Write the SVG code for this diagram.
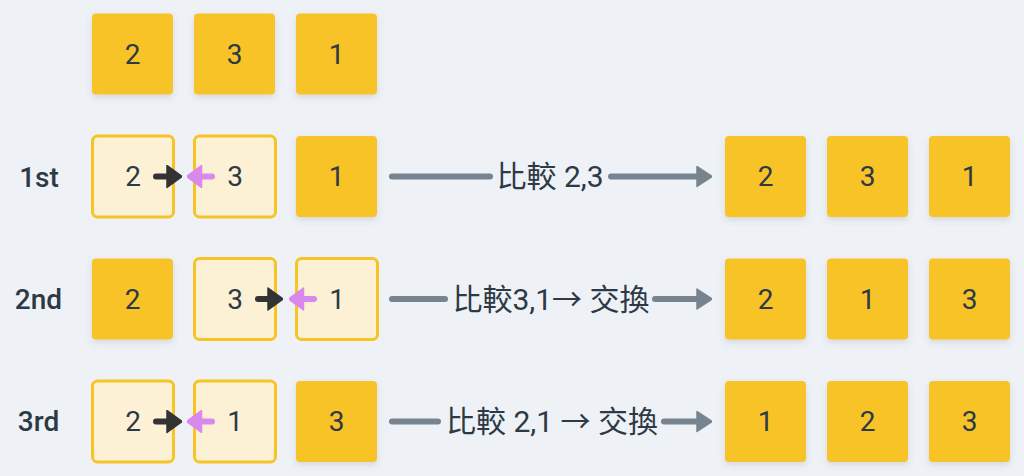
<svg xmlns="http://www.w3.org/2000/svg" width="1024" height="476" viewBox="0 0 1024 476">
<defs>
<filter id="sh" x="-20%" y="-20%" width="140%" height="150%">
<feDropShadow dx="0" dy="3" stdDeviation="3" flood-color="#5a6470" flood-opacity="0.18"/>
</filter>
<marker id="ah" viewBox="0 0 16 22" refX="1" refY="11" markerWidth="16" markerHeight="22" markerUnits="userSpaceOnUse" orient="auto">
<path d="M1,1 L16,11 L1,21 Z" fill="#778490" stroke="#778490" stroke-width="1.5" stroke-linejoin="round"/>
</marker>
<marker id="ahb" viewBox="0 0 16 24" refX="1" refY="12" markerWidth="16" markerHeight="24" markerUnits="userSpaceOnUse" orient="auto">
<path d="M1,1 L16,12 L1,23 Z" fill="#333333" stroke="#333333" stroke-width="1.5" stroke-linejoin="round"/>
</marker>
<marker id="ahp" viewBox="0 0 16 24" refX="1" refY="12" markerWidth="16" markerHeight="24" markerUnits="userSpaceOnUse" orient="auto">
<path d="M1,1 L16,12 L1,23 Z" fill="#d988ee" stroke="#d988ee" stroke-width="1.5" stroke-linejoin="round"/>
</marker>
</defs>
<style>
.bg{fill:#eef2f6}
.s{fill:#f7c325;filter:url(#sh)}
.h{fill:#fdf1d5;stroke:#f7c325;stroke-width:3}
.t{font-family:Roboto,"Noto Sans CJK TC",sans-serif;font-size:28px;fill:#2d3945;text-anchor:middle;dominant-baseline:central}
.l{font-family:Roboto,"Noto Sans CJK TC",sans-serif;font-size:30px;fill:#2d3945;text-anchor:middle;dominant-baseline:central}
.r{font-family:Roboto,sans-serif;font-size:28px;font-weight:500;fill:#2d3945;text-anchor:middle;dominant-baseline:central}
.c{stroke:#778490;stroke-width:6;stroke-linecap:round;fill:none}
.ab{stroke:#333333;stroke-width:6;stroke-linecap:round;fill:none}
.ap{stroke:#d988ee;stroke-width:6;stroke-linecap:round;fill:none}
</style>
<rect class="bg" x="0" y="0" width="1024" height="476"/>

<g id="row-labels">
<text class="r" x="39" y="177">1st</text>
<text class="r" x="38.5" y="299">2nd</text>
<text class="r" x="38.5" y="421.5">3rd</text>
</g>

<g id="row0">
<g id="r0b1"><rect class="s" x="92" y="13.5" width="81" height="81" rx="4"/><text class="t" x="132.5" y="54">2</text></g>
<g id="r0b2"><rect class="s" x="194" y="13.5" width="81" height="81" rx="4"/><text class="t" x="234.5" y="54">3</text></g>
<g id="r0b3"><rect class="s" x="296" y="13.5" width="81" height="81" rx="4"/><text class="t" x="336.5" y="54">1</text></g>
</g>

<g id="row1">
<g id="r1b1"><rect class="h" x="92.5" y="136" width="81" height="81" rx="5"/><text class="t" x="133" y="176.5">2</text></g>
<g id="r1b2"><rect class="h" x="194.5" y="136" width="81" height="81" rx="5"/><text class="t" x="235" y="176.5">3</text></g>
<g id="r1b3"><rect class="s" x="296" y="136" width="81" height="81" rx="4"/><text class="t" x="336.5" y="176.5">1</text></g>
<g id="r1o1"><rect class="s" x="725" y="136" width="81" height="81" rx="4"/><text class="t" x="765.5" y="176.5">2</text></g>
<g id="r1o2"><rect class="s" x="827" y="136" width="81" height="81" rx="4"/><text class="t" x="867.5" y="176.5">3</text></g>
<g id="r1o3"><rect class="s" x="929" y="136" width="81" height="81" rx="4"/><text class="t" x="969.5" y="176.5">1</text></g>
</g>

<g id="row2">
<g id="r2b1"><rect class="s" x="92" y="258.5" width="81" height="81" rx="4"/><text class="t" x="132.5" y="299">2</text></g>
<g id="r2b2"><rect class="h" x="194.5" y="258.5" width="81" height="81" rx="5"/><text class="t" x="235" y="299">3</text></g>
<g id="r2b3"><rect class="h" x="296.5" y="258.5" width="81" height="81" rx="5"/><text class="t" x="337" y="299">1</text></g>
<g id="r2o1"><rect class="s" x="725" y="258.5" width="81" height="81" rx="4"/><text class="t" x="765.5" y="299">2</text></g>
<g id="r2o2"><rect class="s" x="827" y="258.5" width="81" height="81" rx="4"/><text class="t" x="867.5" y="299">1</text></g>
<g id="r2o3"><rect class="s" x="929" y="258.5" width="81" height="81" rx="4"/><text class="t" x="969.5" y="299">3</text></g>
</g>

<g id="row3">
<g id="r3b1"><rect class="h" x="92.5" y="381" width="81" height="81" rx="5"/><text class="t" x="133" y="421.5">2</text></g>
<g id="r3b2"><rect class="h" x="194.5" y="381" width="81" height="81" rx="5"/><text class="t" x="235" y="421.5">1</text></g>
<g id="r3b3"><rect class="s" x="296" y="381" width="81" height="81" rx="4"/><text class="t" x="336.5" y="421.5">3</text></g>
<g id="r3o1"><rect class="s" x="725" y="381" width="81" height="81" rx="4"/><text class="t" x="765.5" y="421.5">1</text></g>
<g id="r3o2"><rect class="s" x="827" y="381" width="81" height="81" rx="4"/><text class="t" x="867.5" y="421.5">2</text></g>
<g id="r3o3"><rect class="s" x="929" y="381" width="81" height="81" rx="4"/><text class="t" x="969.5" y="421.5">3</text></g>
</g>

<g id="connectors">
<line class="ab" x1="156" y1="176.5" x2="167" y2="176.5" marker-end="url(#ahb)"/>
<line class="ap" x1="212" y1="176.5" x2="201.5" y2="176.5" marker-end="url(#ahp)"/>
<line class="ab" x1="258" y1="299" x2="268" y2="299" marker-end="url(#ahb)"/>
<line class="ap" x1="314" y1="299" x2="303.5" y2="299" marker-end="url(#ahp)"/>
<line class="ab" x1="156" y1="421.5" x2="167" y2="421.5" marker-end="url(#ahb)"/>
<line class="ap" x1="212" y1="421.5" x2="201.5" y2="421.5" marker-end="url(#ahp)"/>

<line class="c" x1="392" y1="176.5" x2="490" y2="176.5"/>
<line class="c" x1="611" y1="176.5" x2="697" y2="176.5" marker-end="url(#ah)"/>
<text class="l" x="550" y="176.5">比較 2,3</text>

<line class="c" x1="392" y1="299" x2="445" y2="299"/>
<line class="c" x1="655" y1="299" x2="697" y2="299" marker-end="url(#ah)"/>
<text class="l" x="551" y="299">比較3,1→ 交換</text>

<line class="c" x1="392" y1="421.5" x2="438" y2="421.5"/>
<line class="c" x1="664" y1="421.5" x2="697" y2="421.5" marker-end="url(#ah)"/>
<text class="l" x="552" y="421.5">比較 2,1 → 交換</text>
</g>
</svg>
